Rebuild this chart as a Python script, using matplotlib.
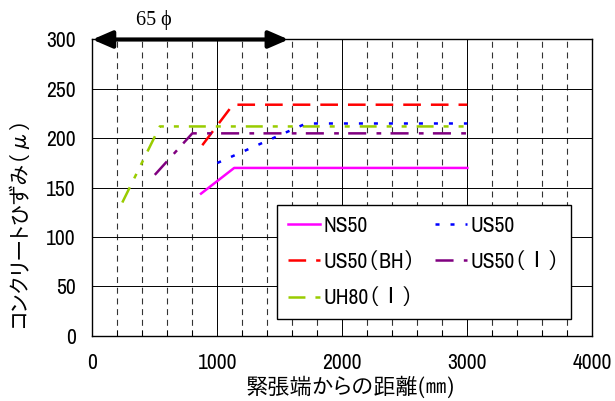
import matplotlib
matplotlib.use("Agg")
import matplotlib.pyplot as plt
from matplotlib.ticker import MultipleLocator

# --- data (distance from jacking end [mm], concrete strain [micro]) ---
ns50_x = [870, 1135, 3000]
ns50_y = [144, 170, 170]
us50_x = [1000, 1710, 3000]
us50_y = [175, 215, 215]
us50bh_x = [880, 1125, 3000]
us50bh_y = [193, 234, 234]
us50i_x = [500, 800, 3000]
us50i_y = [163, 205, 205]
uh80i_x = [240, 540, 3000]
uh80i_y = [135, 212, 212]

labels = ["NS50", "US50", "US50（BH）", "US50（Ⅰ）", "UH80（Ⅰ）"]
anchor_length = 1570          # 65 phi anchorage length shown by the arrow
x_ticks = [0, 1000, 2000, 3000, 4000]
y_ticks = [0, 50, 100, 150, 200, 250, 300]

plt.rcParams["lines.scale_dashes"] = False
num_font = ["Archivo Narrow", "IPAPGothic", "Noto Sans CJK JP", "DejaVu Sans"]
jp_font = ["IPAPGothic", "Noto Sans CJK JP", "DejaVu Sans"]

fig = plt.figure(figsize=(6.15, 4.01), dpi=100)
ax = fig.add_axes([92.3 / 615, 1 - 335.9 / 401, 500 / 615, 296.4 / 401])

ax.set_xlim(0, 4000)
ax.set_ylim(0, 300)
ax.set_xticks(x_ticks)
ax.set_yticks(y_ticks)
ax.xaxis.set_minor_locator(MultipleLocator(200))

# grid: solid majors, dashed vertical minors
ax.grid(True, which="major", color="black", linewidth=0.7)
ax.grid(True, which="minor", axis="x", color="#333333", linewidth=0.8,
        linestyle=(0, (4.3, 3.4)))
ax.set_axisbelow(True)

lw = 1.8
ax.plot(ns50_x, ns50_y, color="#ff00ff", linewidth=lw, label=labels[0])
ax.plot(us50bh_x, us50bh_y, color="#ff0000", linewidth=lw,
        dashes=(12.7, 7.2), label=labels[2])
ax.plot(uh80i_x, uh80i_y, color="#99cc00", linewidth=lw,
        dashes=(12.2, 7.2, 3.6, 7.2, 3.6, 7.2), label=labels[4])
ax.plot(us50_x, us50_y, color="#0000ff", linewidth=lw,
        dashes=(2.9, 7.9), label=labels[1])
ax.plot(us50i_x, us50i_y, color="#800080", linewidth=lw,
        dashes=(13.0, 7.4, 3.4, 6.7), label=labels[3])

for s in ax.spines.values():
    s.set_linewidth(1.0)
    s.set_color("black")

ax.tick_params(which="both", direction="in", top=False, right=False)
ax.tick_params(which="major", length=0, pad=12)
ax.tick_params(which="minor", length=4, width=0.7)
for t in ax.get_xticklabels() + ax.get_yticklabels():
    t.set_fontfamily(num_font)
    t.set_fontsize(15.5)

ax.set_xlabel("緊張端からの距離(㎜)", fontfamily=jp_font, fontsize=16, va="center")
ax.xaxis.set_label_coords(0.517, -0.172)
ax.set_ylabel("コンクリートひずみ（μ）", fontfamily=jp_font, fontsize=15.5, va="center")
ax.yaxis.set_label_coords(-0.145, 0.384)

leg = ax.legend(ncol=2, loc="upper left",
                bbox_to_anchor=(277 / 615, 1 - 205 / 401),
                bbox_transform=fig.transFigure, borderaxespad=0,
                prop={"family": num_font, "size": 15.5},
                handlelength=1.5, handletextpad=0.15, columnspacing=0.9,
                labelspacing=0.75, borderpad=0.5, fancybox=False,
                framealpha=1, edgecolor="black")
leg.get_frame().set_linewidth(1.0)

# anchorage length arrow along the top edge
ax.annotate("", xy=(0, 300), xytext=(anchor_length, 300),
            xycoords="data", textcoords="data", annotation_clip=False,
            arrowprops=dict(arrowstyle="<|-|>,head_length=0.6,head_width=0.26",
                            color="black", linewidth=3, shrinkA=0, shrinkB=0,
                            mutation_scale=20))
fig.text(153.5 / 615, 1 - 20 / 401, "65 ϕ", ha="center", va="center",
         fontfamily=["Liberation Serif", "DejaVu Serif"], fontsize=14.5)

fig.savefig("out.png", dpi=100, facecolor="white")
